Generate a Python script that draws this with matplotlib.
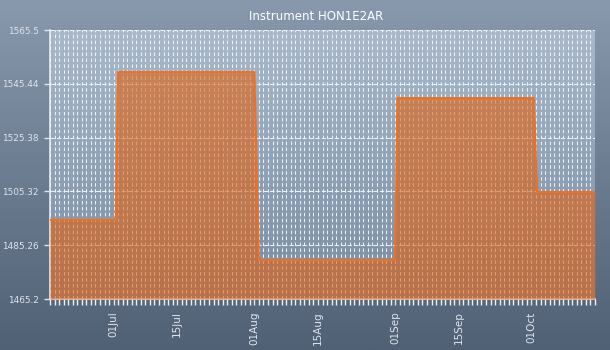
import numpy as np
import pandas as pd
import matplotlib
matplotlib.use('Agg')
import matplotlib.pyplot as plt
import matplotlib.dates as mdates
from matplotlib.colors import LinearSegmentedColormap

# step levels of the instrument reading
dates = ['2024-06-17 00:00', '2024-07-01 12:00', '2024-07-02 00:00', '2024-08-01 00:00',
         '2024-08-02 00:00', '2024-09-01 00:00', '2024-09-01 12:00', '2024-10-01 12:00',
         '2024-10-02 06:00', '2024-10-15 00:00']
values = [1494.7, 1494.7, 1549.8, 1549.8, 1479.7, 1479.7, 1540.1, 1540.1,
          1505.1, 1505.1]
yticks = [1465.2, 1485.26, 1505.32, 1525.38, 1545.44, 1565.5]
xticks = ['2024-07-01', '2024-07-15', '2024-08-01', '2024-08-15',
          '2024-09-01', '2024-09-15', '2024-10-01']
title = "Instrument HON1E2AR"

x = pd.to_datetime(dates, format='%Y-%m-%d %H:%M')
plt.rcParams['font.family'] = ['DejaVu Sans']

fig = plt.figure(figsize=(6.1, 3.5), dpi=100)

# figure background gradient
bg = fig.add_axes([0, 0, 1, 1], zorder=-10)
bg_cmap = LinearSegmentedColormap.from_list('bg', ['#8899ad', '#506075'])
bg.imshow(np.linspace(0, 1, 256).reshape(-1, 1), aspect='auto', cmap=bg_cmap,
          extent=[0, 1, 0, 1], origin='upper')
bg.axis('off')

ax = fig.add_axes([50 / 610, 1 - 299 / 350, 545 / 610, 269 / 350])
ax.patch.set_alpha(0)
pa_cmap = LinearSegmentedColormap.from_list('pa', ['#a9b9ca', '#788ca4'])
ax.imshow(np.linspace(0, 1, 256).reshape(-1, 1), aspect='auto', cmap=pa_cmap,
          extent=[0, 1, 0, 1], origin='upper', transform=ax.transAxes, zorder=0)

ax.fill_between(x, yticks[0], values, color='#e16110', alpha=0.6, lw=0, zorder=3)
ax.plot(x, values, color='#f07020', lw=1.5, zorder=4)

ax.set_xlim(x[0], x[-1])
ax.set_ylim(yticks[0], yticks[-1])
ax.set_yticks(yticks)
ax.set_yticklabels([f'{v:g}' for v in yticks])
ax.set_xticks(pd.to_datetime(xticks))
ax.xaxis.set_major_formatter(mdates.DateFormatter('%d%b'))
ax.xaxis.set_minor_locator(mdates.DayLocator())

ax.grid(True, which='both', axis='x', color='#eef2f6', lw=0.75, ls=(0, (3.4, 2.3)), zorder=1)
ax.grid(True, which='major', axis='y', color='#eef2f6', lw=0.75, ls=(0, (4.2, 2.0)), zorder=1)
ax.set_axisbelow(False)

ax.tick_params(axis='y', colors='#dfe5ec', length=4, width=1, pad=4, labelsize=6.4)
ax.tick_params(axis='x', which='major', colors='#dfe5ec', length=4, width=1, pad=5,
               labelsize=7.5, labelrotation=90)
ax.tick_params(axis='x', which='minor', colors='#eef2f6', length=4, width=1)

for s in ['top', 'right']:
    ax.spines[s].set_visible(False)
for s in ['left', 'bottom']:
    ax.spines[s].set_color('#e6ebf0')
    ax.spines[s].set_linewidth(1.2)

fig.text(316 / 610, 1 - 17 / 350, title, ha='center', va='center',
         color='white', fontsize=8.5)

fig.savefig('out.png', dpi=100)
